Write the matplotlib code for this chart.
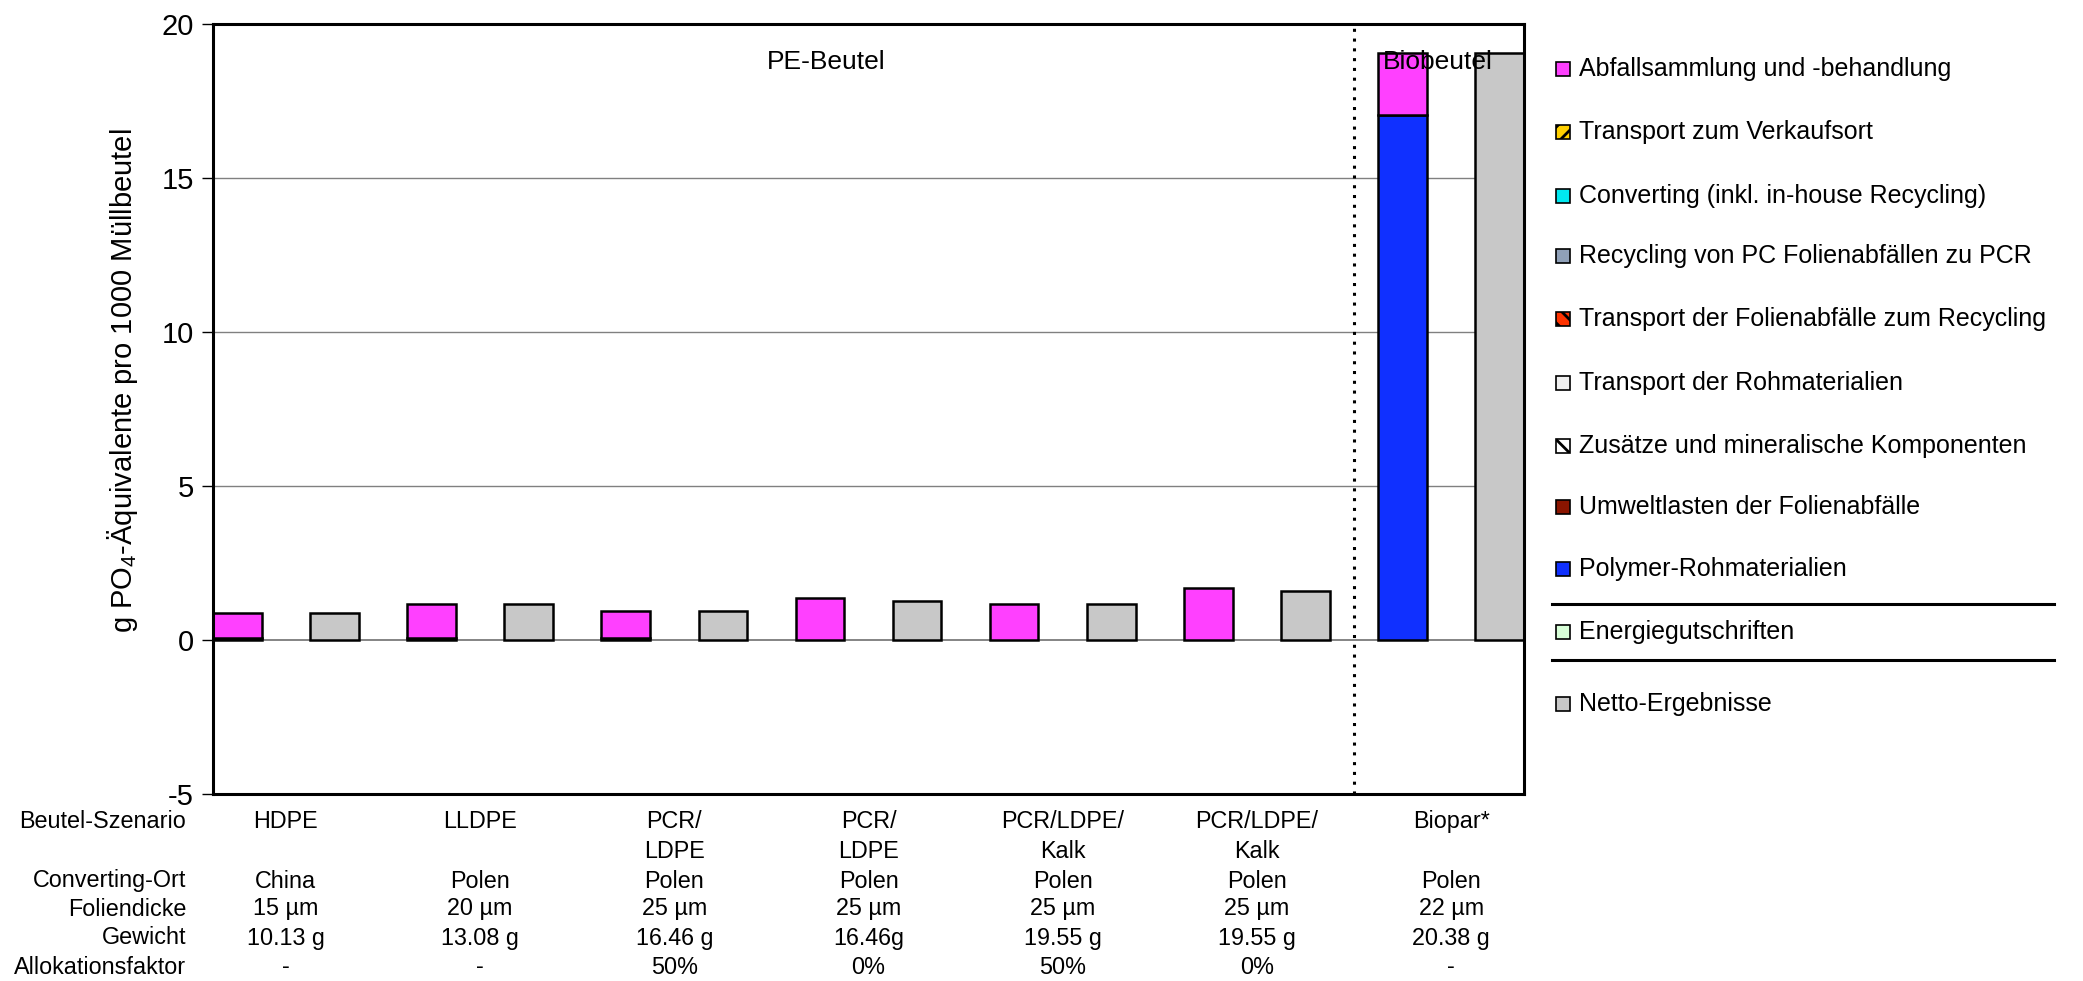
import matplotlib
matplotlib.use("Agg")
import matplotlib.pyplot as plt
import matplotlib.transforms as mtransforms
from matplotlib.patches import Rectangle
from matplotlib.lines import Line2D

plt.rcParams['font.family'] = ['Liberation Sans', 'DejaVu Sans']
plt.rcParams['mathtext.fontset'] = 'custom'
plt.rcParams['mathtext.rm'] = 'Liberation Sans'
plt.rcParams['axes.unicode_minus'] = False
plt.rcParams['hatch.linewidth'] = 2.0

# scenario table under the chart
scenarios = ['HDPE', 'LLDPE', 'PCR/\nLDPE', 'PCR/\nLDPE', 'PCR/LDPE/\nKalk', 'PCR/LDPE/\nKalk', 'Biopar*']
orte = ['China', 'Polen', 'Polen', 'Polen', 'Polen', 'Polen', 'Polen']
dicke = ['15 µm', '20 µm', '25 µm', '25 µm', '25 µm', '25 µm', '22 µm']
gewicht = ['10.13 g', '13.08 g', '16.46 g', '16.46g', '19.55 g', '19.55 g', '20.38 g']
alloc = ['-', '-', '50%', '0%', '50%', '0%', '-']
row_labels = ['Beutel-Szenario', 'Converting-Ort', 'Foliendicke', 'Gewicht', 'Allokationsfaktor']

# contributions per scenario (g PO4-eq per 1000 bags), stacked bottom-up
polymer = [0.06, 0.06, 0.06, 0.0, 0.0, 0.0, 17.05]
umweltlasten = [0.0, 0.0, 0.0, 0.0, 0.0, 0.0, 0.0]
zusaetze = [0.0, 0.0, 0.0, 0.0, 0.0, 0.0, 0.0]
transport_roh = [0.0, 0.0, 0.0, 0.0, 0.0, 0.0, 0.0]
transport_abfall = [0.0, 0.0, 0.0, 0.0, 0.0, 0.0, 0.0]
recycling = [0.0, 0.0, 0.0, 0.0, 0.0, 0.0, 0.0]
converting = [0.0, 0.0, 0.0, 0.0, 0.0, 0.0, 0.0]
transport_verkauf = [0.0, 0.0, 0.0, 0.0, 0.0, 0.0, 0.0]
abfall = [0.82, 1.12, 0.89, 1.35, 1.18, 1.68, 2.0]
energie = [0.0, 0.0, 0.0, 0.0, 0.0, 0.0, 0.0]
netto = [0.88, 1.18, 0.95, 1.27, 1.18, 1.58, 19.05]

# (label, values, facecolor, hatch)
components = [
    ('Polymer-Rohmaterialien', polymer, '#1030ff', None),
    ('Umweltlasten der Folienabfälle', umweltlasten, '#8b1500', None),
    ('Zusätze und mineralische Komponenten', zusaetze, 'white', '\\\\'),
    ('Transport der Rohmaterialien', transport_roh, '#f0f0f0', None),
    ('Transport der Folienabfälle zum Recycling', transport_abfall, '#ff3300', '\\\\'),
    ('Recycling von PC Folienabfällen zu PCR', recycling, '#8fa0b8', None),
    ('Converting (inkl. in-house Recycling)', converting, '#00e8f0', None),
    ('Transport zum Verkaufsort', transport_verkauf, '#ffd000', '//'),
    ('Abfallsammlung und -behandlung', abfall, '#ff40ff', None),
]

fig = plt.figure(figsize=(20.83, 9.81), dpi=100)
ax = fig.add_axes([0.1023, 0.1906, 0.6293, 0.785])

width = 0.5
bw = 1.8
gross_x = [2 * i for i in range(len(scenarios))]
net_x = [2 * i + 1 for i in range(len(scenarios))]

bottoms = [0.0] * len(scenarios)
for label, vals, fc, hatch in components:
    for i, v in enumerate(vals):
        if v <= 0:
            continue
        b = ax.bar(gross_x[i], v, width, bottom=bottoms[i], color=fc,
                   edgecolor='black', linewidth=bw, zorder=3)
        if hatch:
            b[0].set_hatch(hatch)
        bottoms[i] += v

for i, v in enumerate(energie):
    if v < 0:
        ax.bar(gross_x[i], v, width, color='#d8ffd8', edgecolor='black', linewidth=bw, zorder=3)

ax.bar(net_x, netto, width, color='#c8c8c8', edgecolor='black', linewidth=bw, zorder=3)

ax.set_xlim(-0.25, 13.25)
ax.set_ylim(-5, 20)
ax.set_yticks([-5, 0, 5, 10, 15, 20])
ax.set_xticks([])
for y in [5, 10, 15]:
    ax.axhline(y, color='#808080', linewidth=1, zorder=1)
ax.axhline(0, color='#707070', linewidth=1.2, zorder=2)
ax.axvline(11.5, color='black', linestyle=(0, (1, 2.2)), linewidth=2.2, zorder=4)

ax.tick_params(axis='y', labelsize=21, length=8, width=1, direction='out', pad=6)
for sp in ax.spines.values():
    sp.set_linewidth(2.2)
    sp.set_zorder(5)

ax.text(6.06, 18.75, 'PE-Beutel', fontsize=19, ha='center', va='center', zorder=6)
ax.text(12.36, 18.75, 'Biobeutel', fontsize=19, ha='center', va='center', zorder=6)

fig.text(122 / 2083, 1 - 381 / 981, r'g PO$_4$-Äquivalente pro 1000 Müllbeutel',
         rotation=90, ha='center', va='center', fontsize=21)

# table under the chart
trans = mtransforms.blended_transform_factory(ax.transData, fig.transFigure)
tfs = 16.8
row_y = [822, 881, 909, 938, 967]
for lab, yy in zip(row_labels, row_y):
    fig.text(186 / 2083, 1 - yy / 981, lab, ha='right', va='center', fontsize=tfs)

for i in range(len(scenarios)):
    xc = 2 * i + 0.5
    ax.text(xc, 1 - 810 / 981, scenarios[i], transform=trans, ha='center', va='top',
            fontsize=tfs, linespacing=1.4)
    ax.text(xc, 1 - 881 / 981, orte[i], transform=trans, ha='center', va='center', fontsize=tfs)
    ax.text(xc, 1 - 909 / 981, dicke[i], transform=trans, ha='center', va='center', fontsize=tfs)
    ax.text(xc, 1 - 938 / 981, gewicht[i], transform=trans, ha='center', va='center', fontsize=tfs)
    ax.text(xc, 1 - 967 / 981, alloc[i], transform=trans, ha='center', va='center', fontsize=tfs)

# legend drawn by hand
leg_y = [69, 132, 196, 256, 319, 383, 446, 507, 569]
sq = 14
lfs = 18
for (label, vals, fc, hatch), yy in zip(components[::-1], leg_y):
    r = Rectangle(((1563 - sq / 2) / 2083, 1 - (yy + sq / 2) / 981), sq / 2083, sq / 981,
                  transform=fig.transFigure, facecolor=fc, edgecolor='black', linewidth=1.2,
                  hatch=hatch)
    fig.add_artist(r)
    fig.text(1579 / 2083, 1 - yy / 981, label, ha='left', va='center', fontsize=lfs)

for yy, label, fc in [(632, 'Energiegutschriften', '#d8ffd8'), (704, 'Netto-Ergebnisse', '#c8c8c8')]:
    r = Rectangle(((1563 - sq / 2) / 2083, 1 - (yy + sq / 2) / 981), sq / 2083, sq / 981,
                  transform=fig.transFigure, facecolor=fc, edgecolor='black', linewidth=1.2)
    fig.add_artist(r)
    fig.text(1579 / 2083, 1 - yy / 981, label, ha='left', va='center', fontsize=lfs)

for yy in [604, 660]:
    fig.add_artist(Line2D([1552 / 2083, 2054 / 2083], [1 - yy / 981, 1 - yy / 981],
                          transform=fig.transFigure, color='black', linewidth=2.2))

fig.savefig('out.png', dpi=100)
